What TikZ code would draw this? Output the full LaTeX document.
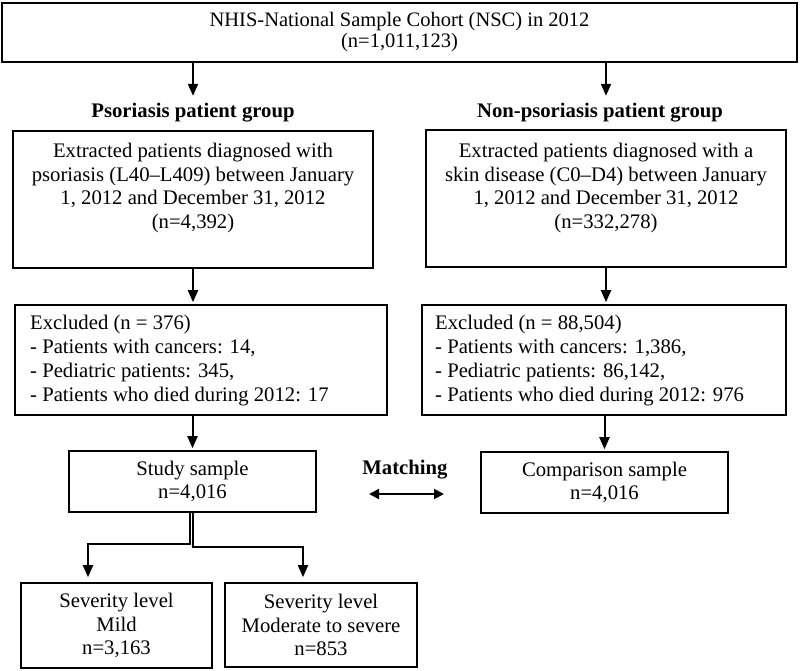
\documentclass[tikz,border=0pt]{standalone}
\usepackage{fontspec}
\setmainfont{Liberation Serif}
\usetikzlibrary{arrows.meta}
\begin{document}
\begin{tikzpicture}[x=1pt,y=-1pt,
  box/.style={draw, line width=1.6pt, inner sep=0pt, align=center,
    font=\fontsize{20.7}{23.5}\selectfont},
  txt/.style={font=\fontsize{20.7}{23.5}\selectfont, align=center, inner sep=0pt},
  ltxt/.style={font=\fontsize{20.7}{24}\selectfont, align=left, inner sep=0pt, anchor=west},
  grp/.style={font=\fontsize{20.7}{23}\selectfont\bfseries, inner sep=0pt},
  arr/.style={line width=2pt, -{Triangle[length=12pt,width=10pt]}, shorten >=2pt},
  dbl/.style={line width=2pt, {Triangle[length=10pt,width=10pt]}-{Triangle[length=10pt,width=10pt]}}]
\useasboundingbox (0,0) rectangle (800,670);
\fill[white] (0,0) rectangle (800,670);

% top
\node[box, minimum width=795pt, minimum height=59pt, font=\fontsize{20.5}{21}\selectfont] (top) at (399.5,32.5)
  {NHIS-National Sample Cohort (NSC) in 2012\\(n=1,011,123)};

% group labels
\node[grp] (grpL) at (193,113) {Psoriasis patient group};
\node[grp] (grpR) at (600,113) {Non-psoriasis patient group};

% extracted boxes
\node[box, minimum width=360pt, minimum height=137pt] (extL) at (193,199.5) {};
\node[txt] (extLt) at (193,188) {Extracted patients diagnosed with\\psoriasis (L40--L409) between January\\1, 2012 and December 31, 2012\\(n=4,392)};
\node[box, minimum width=360pt, minimum height=137pt] (extR) at (606,198.5) {};
\node[txt] (extRt) at (606,188) {Extracted patients diagnosed with a\\skin disease (C0--D4) between January\\1, 2012 and December 31, 2012\\(n=332,278)};

% excluded boxes
\node[box, minimum width=372pt, minimum height=110pt] (exclL) at (201,360) {};
\node[ltxt] (exclLt) at (30,361) {Excluded (n = 376)\\- Patients with cancers: 14,\\- Pediatric patients: 345,\\- Patients who died during 2012: 17};
\node[box, minimum width=364pt, minimum height=110pt] (exclR) at (604,360) {};
\node[ltxt] (exclRt) at (435,361) {Excluded (n = 88,504)\\- Patients with cancers: 1,386,\\- Pediatric patients: 86,142,\\- Patients who died during 2012: 976};

% samples
\node[box, minimum width=247pt, minimum height=61pt] (study) at (192.5,481.5) {Study sample\\n=4,016};
\node[box, minimum width=247pt, minimum height=61pt] (comp) at (604.5,482.5) {Comparison sample\\n=4,016};

% matching
\node[grp] (match) at (405,470) {Matching};
\coordinate (mA) at (369,494);
\coordinate (mB) at (444,494);
\draw[dbl] (mA) -- (mB);

% severity
\node[box, minimum width=191pt, minimum height=85pt] (mild) at (116.5,625.5) {Severity level\\Mild\\n=3,163};
\node[box, minimum width=192pt, minimum height=84pt] (mod) at (321,625) {Severity level\\Moderate to severe\\n=853};

% arrows
\draw[arr, shorten >=0pt] (top.south -| grpL) -- ++(0,33);
\draw[arr, shorten >=0pt] (top.south -| extR) -- ++(0,33);
\draw[arr] (extL.south) -- (extL.south |- exclL.north);
\draw[arr] (extR.south) -- (extR.south |- exclR.north);
\draw[arr] (exclL.south -| study) -- (study.north);
\draw[arr] (exclR.south -| comp) -- (comp.north);

\coordinate (brL) at (88,544);
\coordinate (brR) at (303,547);
\draw[arr, shorten >=5pt] ([xshift=-3pt]study.south) |- (brL) -- (brL |- mild.north);
\draw[arr, shorten >=5pt] ([xshift=0pt]study.south) |- (brR) -- (brR |- mod.north);
\end{tikzpicture}
\end{document}
